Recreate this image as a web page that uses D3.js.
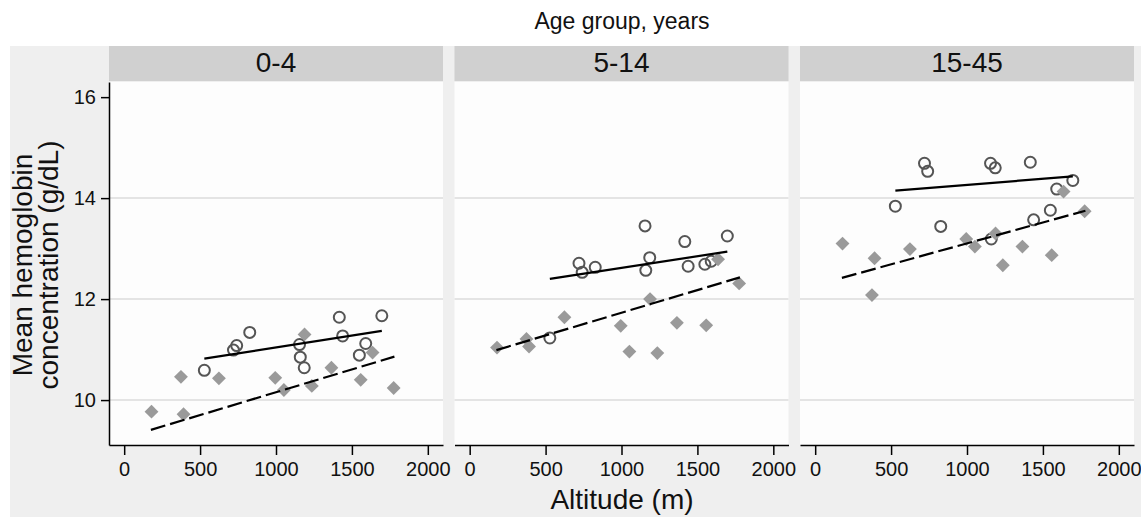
<!DOCTYPE html>
<html>
<head>
<meta charset="utf-8">
<script src="https://cdn.jsdelivr.net/npm/d3@7"></script>
<style>
  body { margin: 0; background: #fff; }
  svg { display: block; font-family: "Liberation Sans", Arial, sans-serif; }
</style>
</head>
<body>
<div id="wrapper"></div>
<script>
const ageGroups = ["0-4", "5-14", "15-45"]
const xTicks = [0, 500, 1000, 1500, 2000]
const yTicks = [10, 12, 14, 16]

// open circles (sites), altitude in m
const circleAlt = [528, 720, 741, 827, 1155, 1160, 1186, 1417, 1439, 1549, 1591, 1697]
const circleHb = [
    [10.59, 10.99, 11.08, 11.34, 11.10, 10.85, 10.64, 11.64, 11.27, 10.89, 11.12, 11.67],
    [11.23, 12.71, 12.53, 12.63, 13.45, 12.57, 12.82, 13.14, 12.65, 12.69, 12.75, 13.25],
    [13.84, 14.69, 14.53, 13.44, 14.69, 13.19, 14.60, 14.71, 13.57, 13.76, 14.18, 14.35],
]

// gray diamonds
const diamondAlt = [180, 374, 391, 624, 995, 1052, 1188, 1236, 1365, 1558, 1636, 1775]
const diamondHb = [
    [9.77, 10.46, 9.72, 10.43, 10.44, 10.20, 11.30, 10.28, 10.64, 10.40, 10.94, 10.24],
    [11.04, 11.21, 11.06, 11.64, 11.47, 10.96, 12.00, 10.93, 11.53, 11.48, 12.79, 12.31],
    [13.10, 12.08, 12.81, 12.99, 13.19, 13.04, 13.30, 12.67, 13.04, 12.87, 14.13, 13.74],
]

// fitted lines: [start, end] values
const solidAlt = [528, 1697]
const solidHb = [[10.82, 11.37], [12.40, 12.94], [14.15, 14.43]]
const dashedAlt = [176, 1780]
const dashedHb = [[9.41, 10.86], [10.99, 12.43], [12.42, 13.75]]

let dimensions = {
    width: 1141,
    height: 517,
    panelLeft: 109,
    panelStep: 345.5,
    panelWidth: 334,
    headerTop: 46,
    headerHeight: 35,
    plotTop: 82,
    plotBottom: 445,
}

const svg = d3.select("#wrapper")
    .append("svg")
        .attr("width", dimensions.width)
        .attr("height", dimensions.height)

svg.append("rect")
    .attr("x", 10)
    .attr("y", dimensions.headerTop)
    .attr("width", dimensions.width - 10)
    .attr("height", dimensions.height - dimensions.headerTop)
    .attr("fill", "#efefef")

svg.append("text")
    .attr("x", 622)
    .attr("y", 29)
    .attr("text-anchor", "middle")
    .style("font-size", "23px")
    .attr("fill", "#111")
    .text("Age group, years")

const xScale = d3.scaleLinear()
    .domain([-100, 2100])
    .range([0, dimensions.panelWidth])

const yScale = d3.scaleLinear()
    .domain([9.11, 16.3])
    .range([dimensions.plotBottom, dimensions.plotTop])

const diamond = d3.symbol().type(d3.symbolSquare).size(96)

ageGroups.forEach((group, i) => {
    const left = dimensions.panelLeft + i * dimensions.panelStep
    const panel = svg.append("g")
        .attr("transform", `translate(${left},0)`)

    // header strip
    panel.append("rect")
        .attr("y", dimensions.headerTop)
        .attr("width", dimensions.panelWidth)
        .attr("height", dimensions.headerHeight)
        .attr("fill", "#d0d0d0")
    panel.append("text")
        .attr("x", dimensions.panelWidth / 2)
        .attr("y", dimensions.headerTop + 26)
        .attr("text-anchor", "middle")
        .style("font-size", "28px")
        .attr("fill", "#111")
        .text(group)

    // plot area
    panel.append("rect")
        .attr("y", dimensions.plotTop)
        .attr("width", dimensions.panelWidth)
        .attr("height", dimensions.plotBottom - dimensions.plotTop)
        .attr("fill", "#fdfdfd")

    panel.selectAll(".grid")
        .data(yTicks.filter(d => d < 16))
        .join("line")
            .attr("x1", 0)
            .attr("x2", dimensions.panelWidth)
            .attr("y1", d => yScale(d))
            .attr("y2", d => yScale(d))
            .attr("stroke", "#e4e4e4")
            .attr("stroke-width", 2)

    const circles = circleAlt.map((a, j) => [a, circleHb[i][j]])
    panel.selectAll(".site")
        .data(circles)
        .join("circle")
            .attr("cx", d => xScale(d[0]))
            .attr("cy", d => yScale(d[1]))
            .attr("r", 5.5)
            .attr("fill", "none")
            .attr("stroke", "#555")
            .attr("stroke-width", 2)

    const diamonds = diamondAlt.map((a, j) => [a, diamondHb[i][j]])
    panel.selectAll(".dmd")
        .data(diamonds)
        .join("path")
            .attr("d", diamond)
            .attr("transform", d => `translate(${xScale(d[0])},${yScale(d[1])}) rotate(45)`)
            .attr("fill", "#9a9a9a")

    const line = d3.line()
        .x(d => xScale(d[0]))
        .y(d => yScale(d[1]))

    panel.append("path")
        .attr("d", line(solidAlt.map((a, j) => [a, solidHb[i][j]])))
        .attr("fill", "none")
        .attr("stroke", "#000")
        .attr("stroke-width", 2.2)

    panel.append("path")
        .attr("d", line(dashedAlt.map((a, j) => [a, dashedHb[i][j]])))
        .attr("fill", "none")
        .attr("stroke", "#000")
        .attr("stroke-width", 2.2)
        .attr("stroke-dasharray", "15,5")

    // x axis
    const xAxis = panel.append("g")
        .attr("transform", `translate(0,${dimensions.plotBottom})`)
        .call(d3.axisBottom(xScale)
            .tickValues(xTicks)
            .tickFormat(d3.format("d"))
            .tickSize(10)
            .tickPadding(7)
            .tickSizeOuter(0))
    xAxis.select(".domain").attr("stroke-width", 1.5)
    xAxis.selectAll(".tick line").attr("stroke-width", 1.5)
    xAxis.selectAll("text")
        .style("font-size", "20px")
        .style("font-family", "Liberation Sans, Arial, sans-serif")
        .attr("fill", "#111")

    if (i === 0) {
        const yAxis = panel.append("g")
            .call(d3.axisLeft(yScale).tickValues(yTicks).tickSize(8).tickPadding(5).tickSizeOuter(0))
        yAxis.select(".domain").attr("stroke-width", 1.5)
        yAxis.selectAll(".tick line").attr("stroke-width", 1.5)
        yAxis.selectAll("text")
            .style("font-size", "20px")
            .style("font-family", "Liberation Sans, Arial, sans-serif")
            .attr("fill", "#111")
    }
})

svg.append("text")
    .attr("x", 622)
    .attr("y", 509)
    .attr("text-anchor", "middle")
    .style("font-size", "28px")
    .attr("fill", "#111")
    .text("Altitude (m)")

const yTitle = svg.append("text")
    .attr("transform", "translate(0,265) rotate(-90)")
    .attr("text-anchor", "middle")
    .style("font-size", "28px")
    .attr("fill", "#111")
yTitle.append("tspan").attr("x", 0).attr("y", 32).text("Mean hemoglobin")
yTitle.append("tspan").attr("x", 0).attr("y", 58).text("concentration (g/dL)")
</script>
</body>
</html>
